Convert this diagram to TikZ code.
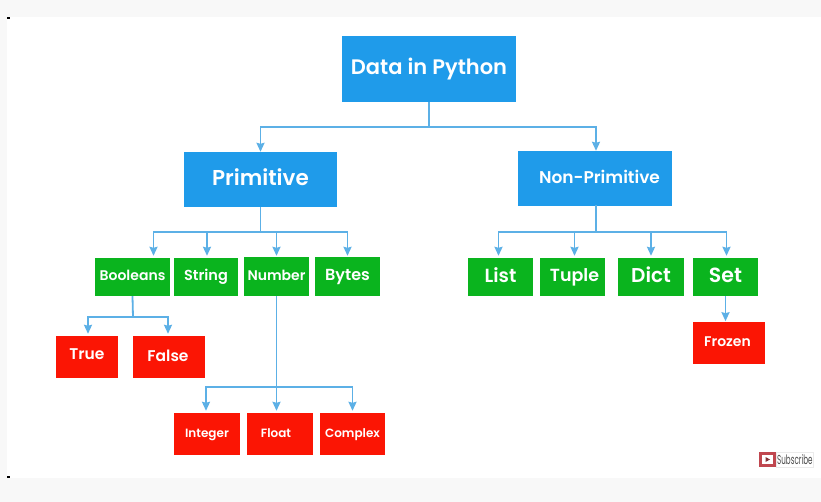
\documentclass[tikz,border=0pt]{standalone}
\usepackage{fontspec}
\setmainfont{Poppins}[BoldFont={Poppins SemiBold}]
\usetikzlibrary{arrows.meta,positioning,calc}
\definecolor{pagegrey}{HTML}{F8F8F8}
\definecolor{topblue}{HTML}{1F9BEA}
\definecolor{boxgreen}{HTML}{0AB41E}
\definecolor{boxred}{HTML}{FB1504}
\definecolor{linkblue}{HTML}{5CB0E6}
\definecolor{subred}{HTML}{C0474F}

\begin{document}
\begin{tikzpicture}[
  x=1pt, y=-1pt,
  box/.style={rectangle, fill=#1, inner sep=0pt, text=white, align=center, execute at begin node={\rule[-0.28em]{0pt}{1.1em}}},
  topbox/.style={box=topblue},
  typebox/.style={box=boxgreen},
  leafbox/.style={box=boxred},
  link/.style={linkblue, line width=1.8pt},
  arr/.style={link, -{Stealth[length=9pt, width=8pt, inset=1pt]}}
]
  \useasboundingbox (0,0) rectangle (821,502);
  \fill[pagegrey] (0,0) rectangle (821,502);
  \fill[white] (7,17) rectangle (821,478);
  \fill[black] (7,17) rectangle (9.5,19.5);
  \fill[black] (7,475.5) rectangle (9.5,478);

  \node[topbox, minimum width=174pt, minimum height=66pt, font=\fontsize{21}{24}\selectfont\bfseries] (data) at (429,69) {Data in Python};
  \node[topbox, minimum width=153pt, minimum height=55pt, font=\fontsize{21.5}{24}\selectfont\bfseries] (prim) at (260.5,179.5) {Primitive};
  \node[topbox, minimum width=154pt, minimum height=55pt, font=\fontsize{17}{20}\selectfont\bfseries] (nonprim) at (595,178.5) {\hspace{9pt}Non-Primitive};

  \node[typebox, minimum width=75pt, minimum height=38pt, font=\fontsize{14}{16}\selectfont\bfseries] (bool) at (132.5,277) {Booleans};
  \node[typebox, minimum width=64pt, minimum height=38pt, font=\fontsize{14.5}{18}\selectfont\bfseries] (string) at (206,277) {String};
  \node[typebox, minimum width=65pt, minimum height=39pt, font=\fontsize{14}{18}\selectfont\bfseries] (number) at (276.5,276.5) {Number};
  \node[typebox, minimum width=65pt, minimum height=39pt, font=\fontsize{16}{18}\selectfont\bfseries] (bytes) at (347.5,276.5) {Bytes};

  \node[typebox, minimum width=65pt, minimum height=38pt, font=\fontsize{19}{22}\selectfont\bfseries] (list) at (500.5,277) {List};
  \node[typebox, minimum width=65pt, minimum height=38pt, font=\fontsize{17.5}{22}\selectfont\bfseries] (tuple) at (572.5,277) {\hspace{4pt}Tuple};
  \node[typebox, minimum width=66pt, minimum height=38pt, font=\fontsize{20}{22}\selectfont\bfseries] (dict) at (651,277) {Dict};
  \node[typebox, minimum width=65pt, minimum height=38pt, font=\fontsize{20.5}{22}\selectfont\bfseries] (set) at (725.5,277) {Set};

  \node[leafbox, minimum width=62pt, minimum height=42pt, font=\fontsize{15.5}{18}\selectfont\bfseries] (true) at (87,357) {\raisebox{2pt}{True}};
  \node[leafbox, minimum width=72pt, minimum height=42pt, font=\fontsize{15.5}{18}\selectfont\bfseries] (false) at (169,357) {False\hspace{2pt}};
  \node[leafbox, minimum width=66pt, minimum height=42pt, font=\fontsize{12}{15}\selectfont\bfseries] (integer) at (207,434) {Integer};
  \node[leafbox, minimum width=66pt, minimum height=42pt, font=\fontsize{12}{15}\selectfont\bfseries] (float) at (280,434) {Float\hspace{8pt}};
  \node[leafbox, minimum width=65pt, minimum height=42pt, font=\fontsize{12}{15}\selectfont\bfseries] (complex) at (352.5,434) {Complex};
  \node[leafbox, minimum width=72pt, minimum height=42pt, font=\fontsize{14}{17}\selectfont\bfseries] (frozen) at (729,343) {Frozen\hspace{3pt}};

  % junctions
  \coordinate (j0) at (429,127);
  \coordinate (j1) at (260.5,232);
  \coordinate (j2) at (596,232);
  \coordinate (j3) at (133,317);
  \coordinate (j4) at (276.5,387);

  \draw[link] (data.south) -- (j0);
  \draw[arr] (j0) -| (prim.north);
  \draw[arr] (j0) -| ($(nonprim.north)+(1,0)$);

  \draw[link] (prim.south) -- (j1);
  \draw[arr] (j1) -| ($(bool.north)+(21,-2)$);
  \draw[arr] (j1) -| ($(string.north)+(1,-2)$);
  \draw[arr] (j1) -| ($(number.north)+(0,-1)$);
  \draw[arr] (j1) -| ($(bytes.north)+(0,-1)$);

  \draw[link] (nonprim.south) -- ($(nonprim.south)+(1,0)$) -- (j2);
  \draw[arr] (j2) -| ($(list.north)+(-2,-2)$);
  \draw[arr] (j2) -| ($(tuple.north)+(2,-2)$);
  \draw[arr] (j2) -| ($(dict.north)+(0,-2)$);
  \draw[arr] (j2) -| ($(set.north)+(1,-2)$);
  \draw[arr] (set.south) -- ($(set.south)+(0,25)$);

  \draw[link] (bool.south) -- (j3);
  \draw[arr] (j3) -| ($(true.north)+(1,-2)$);
  \draw[arr] (j3) -| ($(false.north)+(-1,-2)$);

  \draw[link] (number.south) -- (j4);
  \draw[arr] (j4) -| ($(integer.north)+(-1,-2)$);
  \draw[arr] (j4) -| ($(complex.north)+(0,-2)$);
  \draw[arr] (j4) -- ($(float.north)+(-3.5,-2)$);

  % channel badge
  \fill[subred] (759,452) rectangle (776,467);
  \fill[white] (762,455) rectangle (773,464);
  \fill[subred!70!black] (765.5,457) -- (770,459.5) -- (765.5,462) -- cycle;
  \node[draw=black!8, fill=white, inner sep=1pt, minimum height=15pt, text=black!70, anchor=west] (sub) at (776,459.5) {\fontsize{13}{14}\selectfont\scalebox{0.55}[1]{Subscribe}};
\end{tikzpicture}
\end{document}
